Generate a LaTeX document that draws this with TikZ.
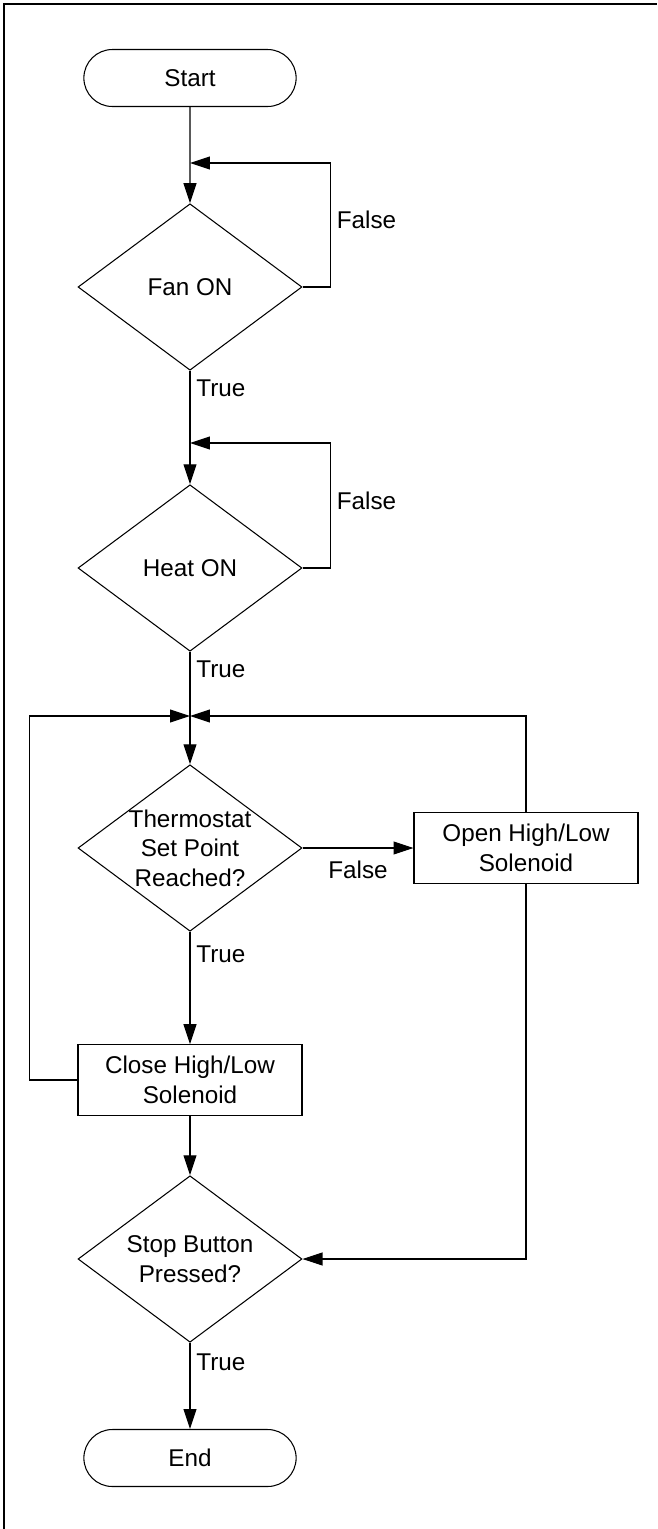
\documentclass[tikz,border=0pt]{standalone}
\usepackage{fontspec}
\setmainfont{Liberation Sans}
\usetikzlibrary{shapes.geometric, shapes.misc, arrows.meta}

\begin{document}
\begin{tikzpicture}[x=0.02cm, y=-0.02cm, line width=0.6pt,
		font=\fontsize{13.8}{16.8}\selectfont,
		>={Triangle[length=0.4cm, width=0.26cm]},
		terminal/.style={draw, rounded rectangle, minimum width=4.48cm, minimum height=1.14cm},
		process/.style={draw, rectangle, align=center, minimum width=4.48cm, minimum height=1.41cm},
		decision/.style={draw, diamond, aspect=1.35, inner sep=-6pt, align=center, minimum width=4.48cm, minimum height=3.33cm}]
		\useasboundingbox (0, 0) rectangle (657, 1529);
		\draw[line width=1pt] (4, 1529) -- (4, 4) -- (657, 4);

		\node[terminal] (Start)       at (190, 78)   {Start};
		\node[decision] (FanOn)       at (190, 287)  {Fan ON};
		\node[decision] (HeatOn)      at (190, 568)  {Heat ON};
		\node[decision] (Thermostat)  at (190, 848)  {Thermostat\\Set Point\\Reached?};
		\node[process]  (OpenValve)   at (526, 848)  {Open High/Low\\Solenoid};
		\node[process]  (CloseValve)  at (190, 1080) {Close High/Low\\Solenoid};
		\node[decision] (StopButton)  at (190, 1259) {Stop Button\\Pressed?};
		\node[terminal] (End)         at (190, 1458) {End};

		\coordinate (FanJoin)  at (190, 163);
		\coordinate (HeatJoin) at (190, 443);
		\coordinate (LoopJoin) at (190, 716);

		\draw[->] (Start)              -- (FanOn);
		\draw[->] (FanOn.east)         -- ++(28, 0) |- (FanJoin) node[pos=0.27, right] {False};
		\draw[->] (FanOn.south)        -- (HeatOn.north) node[pos=0.15, right] {True};
		\draw[->] (HeatOn.east)        -- ++(28, 0) |- (HeatJoin) node[pos=0.27, right] {False};
		\draw[->] (HeatOn.south)       -- (Thermostat.north) node[pos=0.16, right] {True};
		\draw[->] (Thermostat.east)    -- (OpenValve.west) node[midway, below=4pt] {False};
		\draw[->] (OpenValve.north)    |- (LoopJoin);
		\draw[->] (Thermostat.south)   -- (CloseValve.north) node[pos=0.2, right] {True};
		\draw[->] (CloseValve.west)    -- ++(-48, 0) |- (LoopJoin);
		\draw[->] (CloseValve)         -- (StopButton);
		\draw[->] (OpenValve.south)    |- (StopButton.east);
		\draw[->] (StopButton.south)   -- (End.north) node[pos=0.23, right] {True};
	\end{tikzpicture}
\end{document}
